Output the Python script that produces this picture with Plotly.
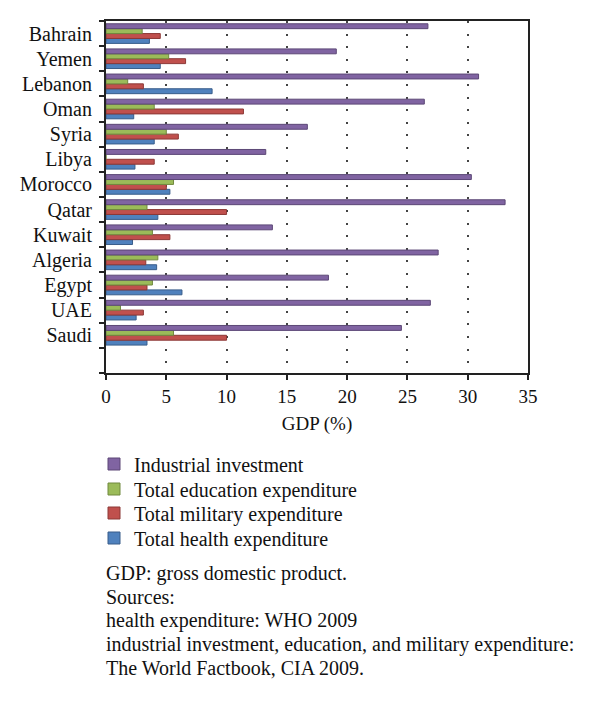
import plotly.graph_objects as go

countries = ["Bahrain", "Yemen", "Lebanon", "Oman", "Syria", "Libya", "Morocco",
             "Qatar", "Kuwait", "Algeria", "Egypt", "UAE", "Saudi"]
industrial = [26.7, 19.1, 30.9, 26.4, 16.7, 13.25, 30.3, 33.1, 13.8, 27.55, 18.45, 26.9, 24.5]
education = [3.0, 5.2, 1.8, 4.0, 5.0, 0.0, 5.6, 3.4, 3.85, 4.3, 3.85, 1.2, 5.6]
military = [4.5, 6.6, 3.1, 11.4, 6.0, 4.0, 5.0, 10.0, 5.3, 3.3, 3.4, 3.1, 10.0]
health = [3.6, 4.5, 8.8, 2.3, 4.0, 2.4, 5.3, 4.3, 2.2, 4.2, 6.3, 2.5, 3.4]

# (name, values, fill, edge, legend id, legend row centre in page px)
series = [
    ("Total health expenditure", health, "#4F81BD", "#385D8A", "legend4", 538),
    ("Total military expenditure", military, "#C0504D", "#8C3836", "legend3", 513),
    ("Total education expenditure", education, "#9BBB59", "#71893F", "legend2", 489),
    ("Industrial investment", industrial, "#8064A2", "#5C4776", "legend", 464),
]

notes = [
    "GDP: gross domestic product.",
    "Sources:",
    "health expenditure: WHO 2009",
    "industrial investment, education, and military expenditure:",
    "The World Factbook, CIA 2009.",
]
note_y = [573, 597, 620, 644, 668]

FONT = "Liberation Serif"
TXT = "#111"

# page has an 8px body margin; work in page pixels and convert
OFF = 8
left_px, right_px = 106, 528
top_px, bot_px = 21, 373
w_plot = right_px - left_px
h_plot = bot_px - top_px

def py(ypx):
    return (bot_px - ypx) / h_plot

def px(xpx):
    return (xpx - left_px) / w_plot

fig = go.Figure()
legends = {}
for name, vals, col, edge, leg, ly in series:
    fig.add_trace(go.Bar(
        y=countries, x=vals, name=name, orientation="h", legend=leg,
        marker=dict(color=col, line=dict(color=edge, width=1)),
    ))
    legends[leg] = dict(
        x=px(94), xanchor="left", y=py(ly), yanchor="middle",
        font=dict(family=FONT, size=20, color=TXT), itemwidth=30,
        bgcolor="rgba(0,0,0,0)", borderwidth=0,
    )

cat_order = [" "] + countries[::-1]

annotations = []
for txt, ypx in zip(notes, note_y):
    annotations.append(dict(
        text=txt, xref="paper", yref="paper", x=px(104), y=py(ypx),
        xanchor="left", yanchor="middle", showarrow=False,
        font=dict(family=FONT, size=20, color=TXT),
    ))

fig.update_layout(
    width=600 - OFF, height=701 - OFF,
    margin=dict(l=left_px - OFF, r=600 - right_px, t=top_px - OFF, b=701 - bot_px,
                autoexpand=False),
    paper_bgcolor="white", plot_bgcolor="white",
    barmode="group", bargap=0.22, bargroupgap=0,
    font=dict(family=FONT, size=18, color=TXT),
    showlegend=True,
    xaxis=dict(
        range=[0, 35], dtick=5, tick0=0,
        showline=True, linecolor="#222", linewidth=2, mirror=True,
        ticks="outside", ticklen=5, tickcolor="#222", tickwidth=2,
        showgrid=True, gridcolor="#444", gridwidth=1.5, griddash="2px,10.6px",
        zeroline=False,
        tickfont=dict(family=FONT, size=19, color=TXT),
        title=dict(text="GDP (%)", font=dict(family=FONT, size=19, color=TXT), standoff=11),
    ),
    yaxis=dict(
        type="category", categoryorder="array", categoryarray=cat_order,
        range=[-0.5, len(cat_order) - 0.5],
        showline=True, linecolor="#222", linewidth=2, mirror=True,
        ticks="outside", ticklen=5, tickcolor="#222", tickwidth=2,
        tickson="boundaries", showgrid=False, zeroline=False,
        ticklabelstandoff=8,
        tickfont=dict(family=FONT, size=20, color=TXT),
    ),
    annotations=annotations,
    **legends,
)

fig.write_html("out.html")
